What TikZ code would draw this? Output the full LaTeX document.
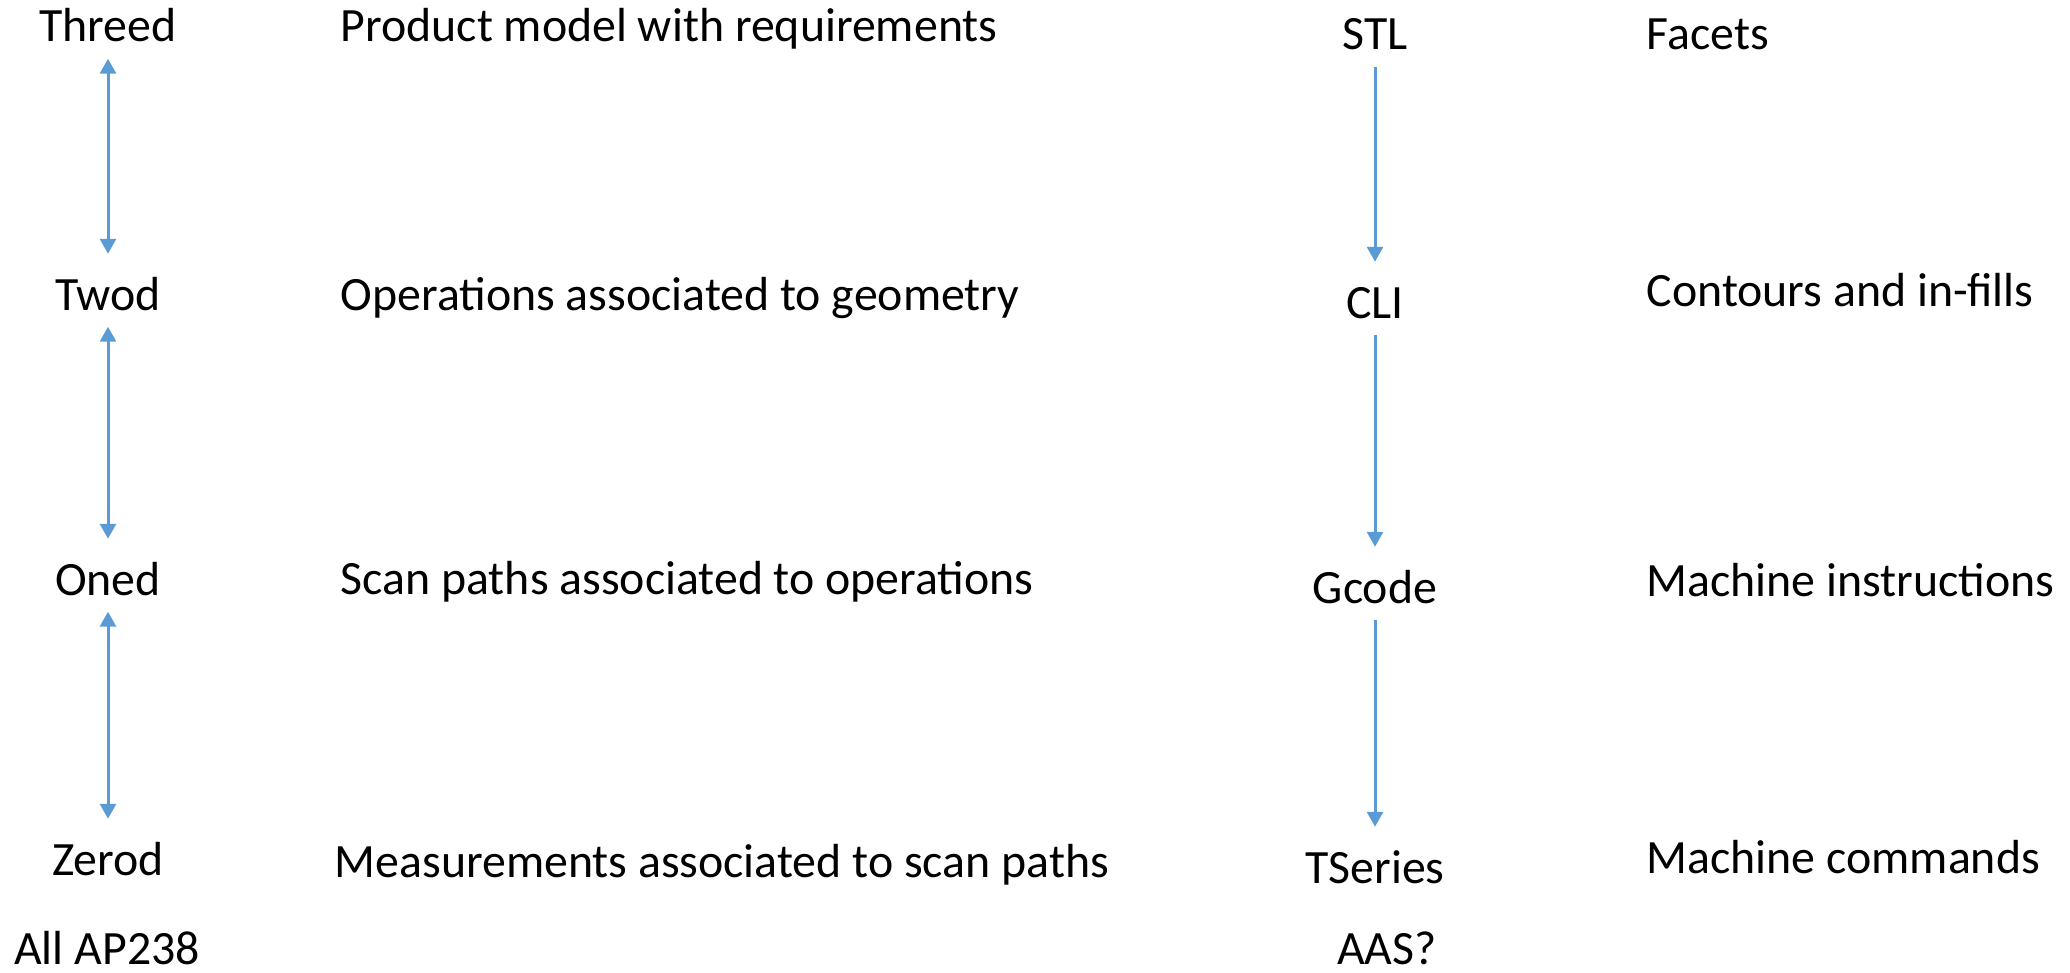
\documentclass[tikz,border=0pt]{standalone}
\usepackage{fontspec}
\setmainfont{Carlito}
\usetikzlibrary{arrows.meta}
\definecolor{linkblue}{HTML}{5B9BD5}
\tikzstyle{every node} = [inner sep=0pt,font=\fontsize{13.6pt}{16pt}\selectfont]
\tikzstyle{format} = [anchor=base,text height=0.305cm,text depth=0pt]
\tikzstyle{descr} = [anchor=base west]
\tikzstyle{every edge} = [draw,linkblue,line width=0.03cm,shorten <=0.16cm,shorten >=0.25cm]
\tikzstyle{both} = [{Triangle[width=0.16cm,length=0.15cm]}-{Triangle[width=0.16cm,length=0.15cm]}]
\tikzstyle{flow} = [-{Triangle[width=0.16cm,length=0.15cm]}]

\begin{document}
\begin{tikzpicture}[x=0.01cm,y=-0.01cm]

\useasboundingbox (0,0) rectangle (2070,973);

% STEP side
\node[format] (threed) at (108,42) {Threed};
\node[format] (twod) at (108,310) {Twod};
\node[format] (oned) at (108,595) {Oned};
\node[format] (zerod) at (108,875) {Zerod};
\node[format] (allap) at (107,964) {All AP238};

\node[descr] (d3) at (340,42) {Product model with requirements};
\node[descr] (d2) at (340,310) {Operations associated to geometry};
\node[descr] (d1) at (340,594) {Scan paths associated to operations};
\node[descr] (d0) at (334,877) {Measurements associated to scan paths};

% legacy side
\node[format] (stl) at (1375,50) {STL};
\node[format] (cli) at (1375,318) {CLI};
\node[format] (gcode) at (1375,603) {Gcode};
\node[format] (tseries) at (1375,883) {TSeries};
\node[format] (aas) at (1387,964) {AAS?};

\node[descr] (facets) at (1646,50) {Facets};
\node[descr] (contours) at (1646,306) {Contours and in-fills};
\node[descr] (instr) at (1646,596) {Machine instructions};
\node[descr] (cmds) at (1646,873) {Machine commands};

\draw (threed.south) edge[both] (twod.north);
\draw (twod.south) edge[both] (oned.north);
\draw (oned.south) edge[both] (zerod.north);

\draw (stl.south) edge[flow] (cli.north);
\draw (cli.south) edge[flow] (gcode.north);
\draw (gcode.south) edge[flow] (tseries.north);

\end{tikzpicture}
\end{document}
